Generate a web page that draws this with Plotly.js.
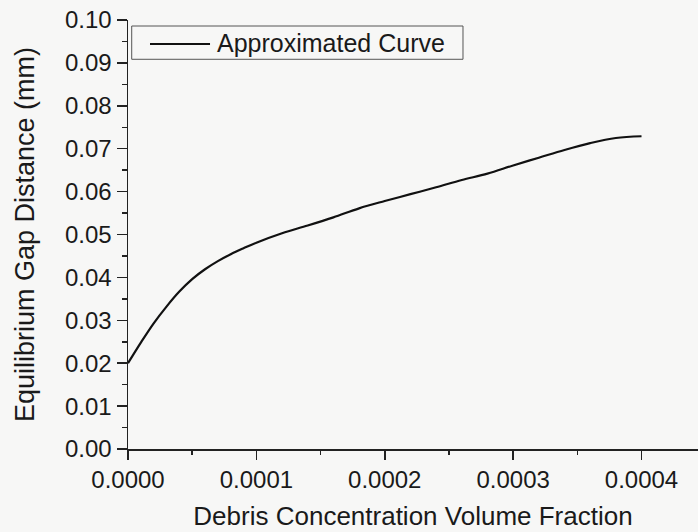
<!DOCTYPE html>
<html>
<head>
<meta charset="utf-8">
<script src="https://cdn.plot.ly/plotly-3.0.1.min.js"></script>
<style>html,body{margin:0;padding:0;background:#f7f7f6;}</style>
</head>
<body>
<div id="chart" style="width:698px;height:532px;"></div>
<script>
const seriesName = "Approximated Curve";
const xTitle = "Debris Concentration Volume Fraction";
const yTitle = "Equilibrium Gap Distance (mm)";
const concentration = [0, 0.00001, 0.00002, 0.00003, 0.00004, 0.00005, 0.00006, 0.00007, 0.00008, 0.00009, 0.0001, 0.00012, 0.00014, 0.00016, 0.00018, 0.0002, 0.00022, 0.00024, 0.00026, 0.00028, 0.0003, 0.00032, 0.00034, 0.00036, 0.00038, 0.0004];
const gapDistance = [0.0200, 0.0248, 0.0293, 0.0332, 0.0367, 0.0396, 0.0419, 0.0438, 0.0454, 0.0468, 0.0481, 0.0503, 0.0521, 0.0540, 0.0561, 0.0578, 0.0594, 0.0610, 0.0627, 0.0642, 0.0661, 0.0679, 0.0697, 0.0713, 0.0725, 0.0729];

const fam = "Arial, 'Liberation Sans', sans-serif";
const font = {family: fam, size: 24, color: "#1a1a1a"};
const legendFont = {family: fam, size: 25, color: "#1a1a1a"};
const xTitleFont = {family: fam, size: 26, color: "#1a1a1a"};
const yTitleFont = {family: fam, size: 27, color: "#1a1a1a"};

Plotly.newPlot("chart", [{
  x: concentration, y: gapDistance, type: "scatter", mode: "lines",
  name: seriesName, line: {color: "#111", width: 2.2, shape: "spline"}
}], {
  width: 698, height: 532,
  margin: {l: 128, r: 0, t: 20, b: 83},
  paper_bgcolor: "#f7f7f6", plot_bgcolor: "#f7f7f6",
  font: font,
  showlegend: false,
  shapes: [
    {type: "rect", xref: "paper", yref: "paper", x0: 0.0065, x1: 0.5877, y0: 0.9084, y1: 0.986,
     line: {color: "#555", width: 1}, fillcolor: "rgba(0,0,0,0)"},
    {type: "line", xref: "paper", yref: "paper", x0: 0.0386, x1: 0.1439, y0: 0.944, y1: 0.944,
     line: {color: "#111", width: 2.2}}
  ],
  annotations: [
    {text: seriesName, xref: "paper", yref: "paper", x: 0.152, y: 0.946, xanchor: "left", yanchor: "middle",
     showarrow: false, font: legendFont}
  ],
  xaxis: {
    range: [0, 0.000444], tickvals: [0, 0.0001, 0.0002, 0.0003, 0.0004], tickformat: ".4f",
    showgrid: false, zeroline: false, showline: true, linecolor: "#222", linewidth: 1.5,
    ticks: "outside", ticklen: 9, tickwidth: 1.5, tickcolor: "#222",
    minor: {dtick: 0.00005, ticks: "outside", ticklen: 4, tickwidth: 1.5, tickcolor: "#222", showgrid: false},
    title: {text: xTitle, font: xTitleFont, standoff: 14},
    tickfont: font, fixedrange: true
  },
  yaxis: {
    range: [0, 0.1], dtick: 0.01, tickformat: ".2f",
    showgrid: false, zeroline: false, showline: true, linecolor: "#222", linewidth: 1.5,
    ticks: "outside", ticklen: 10, tickwidth: 1.5, tickcolor: "#222",
    minor: {dtick: 0.005, ticks: "outside", ticklen: 5, tickwidth: 1.5, tickcolor: "#222", showgrid: false},
    title: {text: yTitle, font: yTitleFont, standoff: 22},
    tickfont: font, fixedrange: true
  }
}, {displayModeBar: false, staticPlot: true});
</script>
</body>
</html>
